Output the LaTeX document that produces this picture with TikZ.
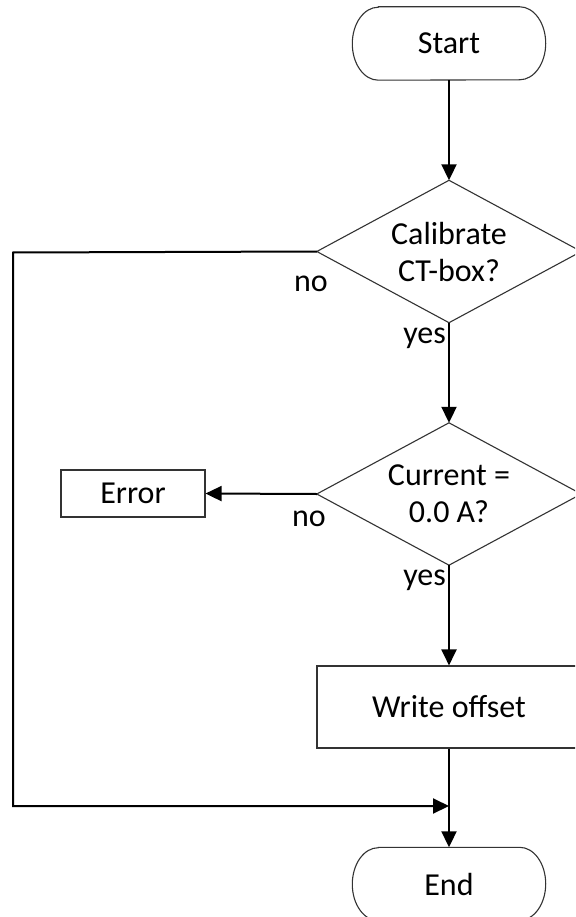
\documentclass[tikz,border=0pt]{standalone}
\usepackage{fontspec}
\setmainfont{Carlito}
\usetikzlibrary{arrows.meta}
\tikzset{
  shapeline/.style={draw=black!80, line width=1.1pt},
  conn/.style={draw=black, line width=2pt},
  arr/.style={conn, -{Triangle[length=16pt,width=15pt]}},
  txt/.style={font=\fontsize{32}{37}\selectfont},
  lbl/.style={txt, inner sep=0pt},
  decision/.style={rectangle, inner sep=0pt, minimum width=264pt, minimum height=142pt, align=center, txt},
  procbox/.style={rectangle, shapeline, inner sep=0pt, align=center, txt},
  termbox/.style={rectangle, inner sep=0pt, minimum width=193pt, minimum height=73pt, txt},
}
\newcommand{\stadium}[1]{%
  \draw[shapeline] ([xshift=26pt]#1.north west) -- ([xshift=-26pt]#1.north east)
    arc[start angle=90, end angle=-90, x radius=26pt, y radius=36.5pt]
    -- ([xshift=26pt]#1.south west)
    arc[start angle=270, end angle=90, x radius=26pt, y radius=36.5pt] -- cycle;}
\newcommand{\rhomb}[1]{%
  \draw[shapeline] (#1.north) -- (#1.east) -- (#1.south) -- (#1.west) -- cycle;}
\begin{document}
\begin{tikzpicture}[x=1pt, y=-1pt]
\useasboundingbox (0,0) rectangle (575,917);
\clip (0,0) rectangle (575,917);
\fill[white] (0,0) rectangle (575,917);

\node[termbox] (start) at (449,43.5) {Start};
\stadium{start}
\node[decision] (d1) at (449,251.5) {Calibrate\\CT-box?};
\rhomb{d1}
\node[decision] (d2) at (449,494) {Current =\\0.0 A?};
\rhomb{d2}
\node[procbox, minimum width=144pt, minimum height=47pt] (err) at (133,493.5) {Error};
\node[procbox, minimum width=264pt, minimum height=82pt] (wo) at (449,707) {Write offset};
\node[termbox] (end) at (449,884) {End};
\stadium{end}

\coordinate (c1) at (13,252.5);
\coordinate (c2) at (13,806);
\coordinate (j) at (449,806);

\draw[arr] (start.south) -- (d1.north);
\draw[arr] (d1.south) -- (d2.north);
\draw[arr] (d2.west) -- (err.east);
\draw[arr] (d2.south) -- (wo.north);
\draw[arr] (wo.south) -- (end.north);
\draw[arr] (d1.west) -- (c1) -- (c2) -- (j);

\node[lbl, anchor=base] (no1) at (311,291) {no};
\node[lbl, anchor=base east] (yes1) at (446,343) {yes};
\node[lbl, anchor=base] (no2) at (309,526) {no};
\node[lbl, anchor=base east] (yes2) at (446,585) {yes};
\end{tikzpicture}
\end{document}
